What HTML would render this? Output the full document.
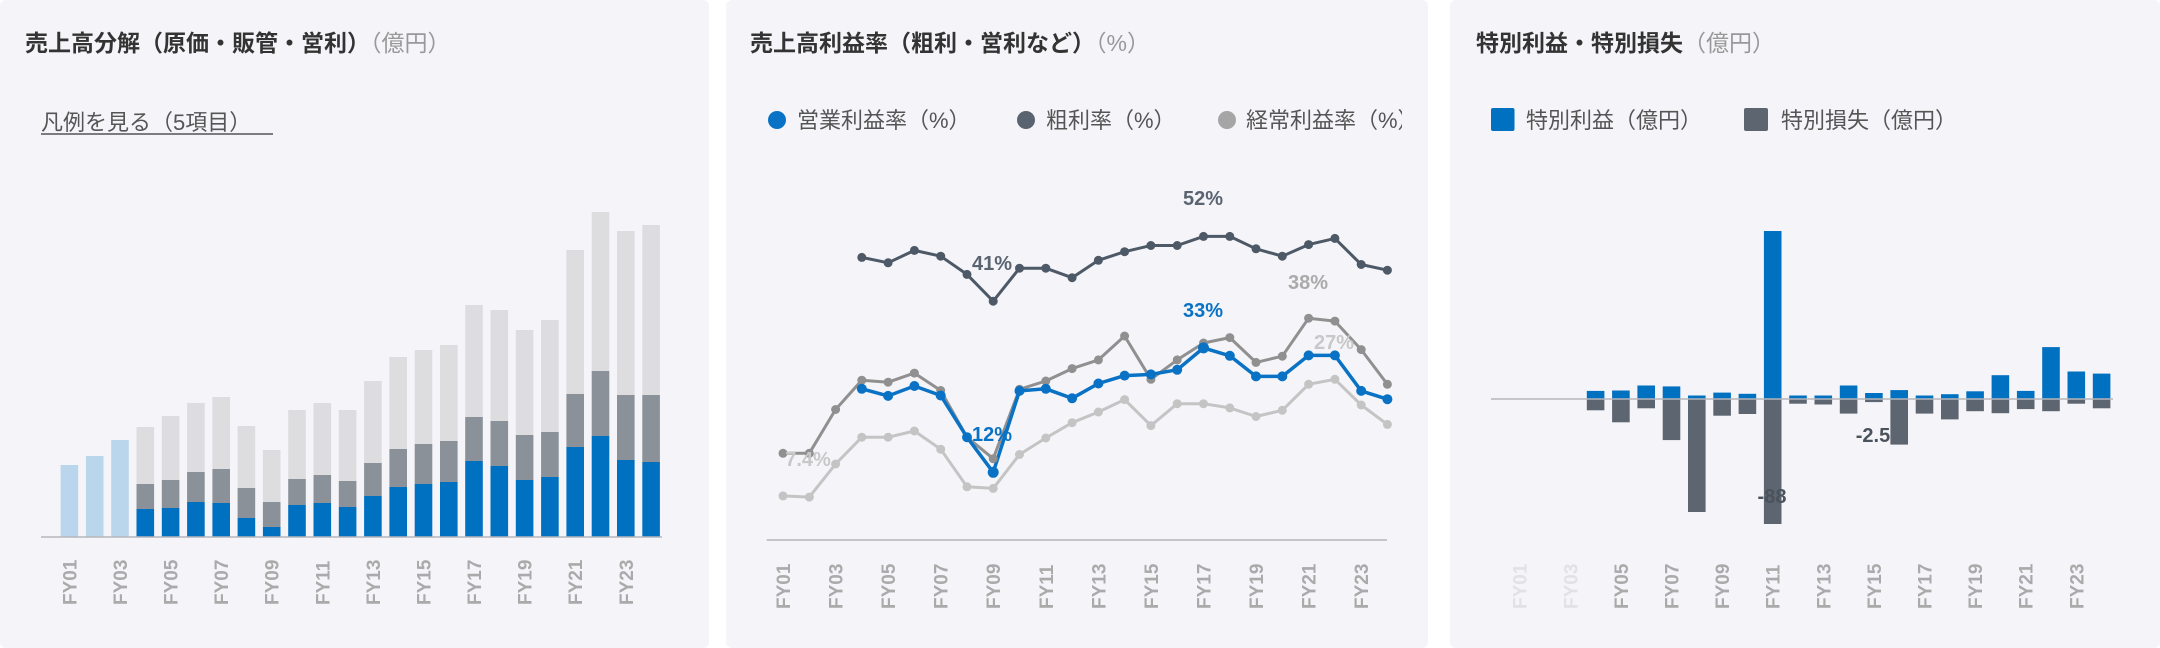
<!DOCTYPE html>
<html><head><meta charset="utf-8"><style>
html,body{margin:0;padding:0;background:#fff;width:2160px;height:648px;overflow:hidden}
svg{display:block}
text{font-family:"Liberation Sans","Noto Sans CJK JP",sans-serif}
.t{font-size:23px;font-weight:bold;fill:#333}
.u{font-size:23px;fill:#999;font-weight:normal}
.lg{font-size:22px;fill:#555}
.tk{font-size:19px;font-weight:bold;fill:#aaa}
</style></head><body>
<svg width="2160" height="648" viewBox="0 0 2160 648" xmlns="http://www.w3.org/2000/svg">
<rect x="0" y="0" width="709" height="648" rx="6" fill="#f5f5f9"/>
<rect x="726" y="0" width="702" height="648" rx="6" fill="#f5f5f9"/>
<rect x="1450" y="0" width="710" height="648" rx="6" fill="#f5f5f9"/>

<!-- Panel 1 -->
<text x="25" y="51" class="t">売上高分解（原価・販管・営利）<tspan class="u">（億円）</tspan></text>
<text x="41" y="130" class="lg">凡例を見る（5項目）</text>
<line x1="41" y1="134" x2="273" y2="134" stroke="#555" stroke-width="1.5"/>
<g fill="#b9d6ec">
<rect x="60.6" y="465" width="17.6" height="72"/>
<rect x="85.9" y="456" width="17.6" height="81"/>
<rect x="111.2" y="440" width="17.6" height="97"/>
</g>
<g>
<rect x="136.5" y="427" width="17.6" height="57" fill="#dddde0"/><rect x="136.5" y="484" width="17.6" height="25" fill="#8b9199"/><rect x="136.5" y="509" width="17.6" height="28" fill="#0070c0"/>
<rect x="161.8" y="416" width="17.6" height="64" fill="#dddde0"/><rect x="161.8" y="480" width="17.6" height="28" fill="#8b9199"/><rect x="161.8" y="508" width="17.6" height="29" fill="#0070c0"/>
<rect x="187.1" y="403" width="17.6" height="69" fill="#dddde0"/><rect x="187.1" y="472" width="17.6" height="30" fill="#8b9199"/><rect x="187.1" y="502" width="17.6" height="35" fill="#0070c0"/>
<rect x="212.4" y="397" width="17.6" height="72" fill="#dddde0"/><rect x="212.4" y="469" width="17.6" height="34" fill="#8b9199"/><rect x="212.4" y="503" width="17.6" height="34" fill="#0070c0"/>
<rect x="237.6" y="426" width="17.6" height="62" fill="#dddde0"/><rect x="237.6" y="488" width="17.6" height="30" fill="#8b9199"/><rect x="237.6" y="518" width="17.6" height="19" fill="#0070c0"/>
<rect x="262.9" y="450" width="17.6" height="52" fill="#dddde0"/><rect x="262.9" y="502" width="17.6" height="25" fill="#8b9199"/><rect x="262.9" y="527" width="17.6" height="10" fill="#0070c0"/>
<rect x="288.2" y="410" width="17.6" height="69" fill="#dddde0"/><rect x="288.2" y="479" width="17.6" height="26" fill="#8b9199"/><rect x="288.2" y="505" width="17.6" height="32" fill="#0070c0"/>
<rect x="313.5" y="403" width="17.6" height="72" fill="#dddde0"/><rect x="313.5" y="475" width="17.6" height="28" fill="#8b9199"/><rect x="313.5" y="503" width="17.6" height="34" fill="#0070c0"/>
<rect x="338.8" y="410" width="17.6" height="71" fill="#dddde0"/><rect x="338.8" y="481" width="17.6" height="26" fill="#8b9199"/><rect x="338.8" y="507" width="17.6" height="30" fill="#0070c0"/>
<rect x="364.1" y="381" width="17.6" height="82" fill="#dddde0"/><rect x="364.1" y="463" width="17.6" height="33" fill="#8b9199"/><rect x="364.1" y="496" width="17.6" height="41" fill="#0070c0"/>
<rect x="389.4" y="357" width="17.6" height="92" fill="#dddde0"/><rect x="389.4" y="449" width="17.6" height="38" fill="#8b9199"/><rect x="389.4" y="487" width="17.6" height="50" fill="#0070c0"/>
<rect x="414.7" y="350" width="17.6" height="94" fill="#dddde0"/><rect x="414.7" y="444" width="17.6" height="40" fill="#8b9199"/><rect x="414.7" y="484" width="17.6" height="53" fill="#0070c0"/>
<rect x="440.0" y="345" width="17.6" height="96" fill="#dddde0"/><rect x="440.0" y="441" width="17.6" height="41" fill="#8b9199"/><rect x="440.0" y="482" width="17.6" height="55" fill="#0070c0"/>
<rect x="465.2" y="305" width="17.6" height="112" fill="#dddde0"/><rect x="465.2" y="417" width="17.6" height="44" fill="#8b9199"/><rect x="465.2" y="461" width="17.6" height="76" fill="#0070c0"/>
<rect x="490.5" y="310" width="17.6" height="111" fill="#dddde0"/><rect x="490.5" y="421" width="17.6" height="45" fill="#8b9199"/><rect x="490.5" y="466" width="17.6" height="71" fill="#0070c0"/>
<rect x="515.8" y="330" width="17.6" height="105" fill="#dddde0"/><rect x="515.8" y="435" width="17.6" height="45" fill="#8b9199"/><rect x="515.8" y="480" width="17.6" height="57" fill="#0070c0"/>
<rect x="541.1" y="320" width="17.6" height="112" fill="#dddde0"/><rect x="541.1" y="432" width="17.6" height="45" fill="#8b9199"/><rect x="541.1" y="477" width="17.6" height="60" fill="#0070c0"/>
<rect x="566.4" y="250" width="17.6" height="144" fill="#dddde0"/><rect x="566.4" y="394" width="17.6" height="53" fill="#8b9199"/><rect x="566.4" y="447" width="17.6" height="90" fill="#0070c0"/>
<rect x="591.7" y="212" width="17.6" height="159" fill="#dddde0"/><rect x="591.7" y="371" width="17.6" height="65" fill="#8b9199"/><rect x="591.7" y="436" width="17.6" height="101" fill="#0070c0"/>
<rect x="617.0" y="231" width="17.6" height="164" fill="#dddde0"/><rect x="617.0" y="395" width="17.6" height="65" fill="#8b9199"/><rect x="617.0" y="460" width="17.6" height="77" fill="#0070c0"/>
<rect x="642.3" y="225" width="17.6" height="170" fill="#dddde0"/><rect x="642.3" y="395" width="17.6" height="67" fill="#8b9199"/><rect x="642.3" y="462" width="17.6" height="75" fill="#0070c0"/>
</g>
<line x1="41" y1="537" x2="662" y2="537" stroke="#b5b5bb" stroke-width="1.5"/>
<g class="tk">
<text transform="translate(69.4,605) rotate(-90)" dy="7">FY01</text>
<text transform="translate(120.0,605) rotate(-90)" dy="7">FY03</text>
<text transform="translate(170.6,605) rotate(-90)" dy="7">FY05</text>
<text transform="translate(221.2,605) rotate(-90)" dy="7">FY07</text>
<text transform="translate(271.7,605) rotate(-90)" dy="7">FY09</text>
<text transform="translate(322.3,605) rotate(-90)" dy="7">FY11</text>
<text transform="translate(372.9,605) rotate(-90)" dy="7">FY13</text>
<text transform="translate(423.5,605) rotate(-90)" dy="7">FY15</text>
<text transform="translate(474.0,605) rotate(-90)" dy="7">FY17</text>
<text transform="translate(524.6,605) rotate(-90)" dy="7">FY19</text>
<text transform="translate(575.2,605) rotate(-90)" dy="7">FY21</text>
<text transform="translate(625.8,605) rotate(-90)" dy="7">FY23</text>
</g>

<!-- Panel 2 -->
<text x="750" y="51" class="t">売上高利益率（粗利・営利など）<tspan class="u">（%）</tspan></text>
<svg x="726" y="90" width="676" height="60" overflow="hidden">
<circle cx="51" cy="30" r="9" fill="#0a72c4"/><text x="71" y="38" class="lg">営業利益率（%）</text>
<circle cx="300" cy="30" r="9" fill="#5a6470"/><text x="320" y="38" class="lg">粗利率（%）</text>
<circle cx="501" cy="30" r="9" fill="#a5a5a5"/><text x="520" y="38" class="lg">経常利益率（%）</text>
</svg>
<line x1="766.6" y1="540" x2="1387" y2="540" stroke="#b5b5bb" stroke-width="1.5"/>
<g fill="none" stroke-linejoin="round">
<polyline stroke="#c4c4c4" stroke-width="3" points="783.0,495.9 809.3,497.1 835.6,464.0 861.8,437.2 888.1,437.2 914.4,431.0 940.7,449.2 967.0,486.8 993.2,488.4 1019.5,454.5 1045.8,438.0 1072.1,422.7 1098.4,412.0 1124.6,399.6 1150.9,425.6 1177.2,403.7 1203.5,403.7 1229.8,407.9 1256.0,416.5 1282.3,410.3 1308.6,384.3 1334.9,379.3 1361.2,405.0 1387.4,424.4"/>
<polyline stroke="#909090" stroke-width="3" points="783.0,453.3 809.3,453.3 835.6,409.5 861.8,380.2 888.1,382.2 914.4,373.1 940.7,390.5 967.0,437.2 993.2,458.7 1019.5,389.3 1045.8,381.0 1072.1,368.6 1098.4,359.9 1124.6,336.0 1150.9,379.3 1177.2,359.9 1203.5,343.0 1229.8,337.6 1256.0,362.4 1282.3,356.2 1308.6,318.2 1334.9,321.1 1361.2,349.6 1387.4,384.3"/>
<polyline stroke="#4d5966" stroke-width="3" points="861.8,257.4 888.1,262.8 914.4,250.4 940.7,256.2 967.0,274.4 993.2,301.2 1019.5,268.2 1045.8,268.2 1072.1,277.7 1098.4,260.3 1124.6,251.7 1150.9,245.5 1177.2,245.5 1203.5,236.4 1229.8,236.4 1256.0,248.8 1282.3,256.2 1308.6,244.6 1334.9,238.4 1361.2,264.5 1387.4,270.2"/>
<polyline stroke="#0a72c4" stroke-width="3.5" points="861.8,388.8 888.1,395.9 914.4,386.0 940.7,395.5 967.0,437.2 993.2,472.3 1019.5,390.9 1045.8,388.8 1072.1,398.3 1098.4,383.5 1124.6,375.6 1150.9,374.4 1177.2,369.8 1203.5,347.9 1229.8,355.8 1256.0,376.4 1282.3,376.4 1308.6,355.4 1334.9,355.4 1361.2,390.9 1387.4,399.2"/>
</g>
<g fill="#c4c4c4">
<circle cx="783.0" cy="495.9" r="4.5"/><circle cx="809.3" cy="497.1" r="4.5"/><circle cx="835.6" cy="464.0" r="4.5"/><circle cx="861.8" cy="437.2" r="4.5"/><circle cx="888.1" cy="437.2" r="4.5"/><circle cx="914.4" cy="431.0" r="4.5"/><circle cx="940.7" cy="449.2" r="4.5"/><circle cx="967.0" cy="486.8" r="4.5"/><circle cx="993.2" cy="488.4" r="4.5"/><circle cx="1019.5" cy="454.5" r="4.5"/><circle cx="1045.8" cy="438.0" r="4.5"/><circle cx="1072.1" cy="422.7" r="4.5"/><circle cx="1098.4" cy="412.0" r="4.5"/><circle cx="1124.6" cy="399.6" r="4.5"/><circle cx="1150.9" cy="425.6" r="4.5"/><circle cx="1177.2" cy="403.7" r="4.5"/><circle cx="1203.5" cy="403.7" r="4.5"/><circle cx="1229.8" cy="407.9" r="4.5"/><circle cx="1256.0" cy="416.5" r="4.5"/><circle cx="1282.3" cy="410.3" r="4.5"/><circle cx="1308.6" cy="384.3" r="4.5"/><circle cx="1334.9" cy="379.3" r="4.5"/><circle cx="1361.2" cy="405.0" r="4.5"/><circle cx="1387.4" cy="424.4" r="4.5"/>
</g>
<g fill="#909090">
<circle cx="783.0" cy="453.3" r="4.5"/><circle cx="809.3" cy="453.3" r="4.5"/><circle cx="835.6" cy="409.5" r="4.5"/><circle cx="861.8" cy="380.2" r="4.5"/><circle cx="888.1" cy="382.2" r="4.5"/><circle cx="914.4" cy="373.1" r="4.5"/><circle cx="940.7" cy="390.5" r="4.5"/><circle cx="967.0" cy="437.2" r="4.5"/><circle cx="993.2" cy="458.7" r="4.5"/><circle cx="1019.5" cy="389.3" r="4.5"/><circle cx="1045.8" cy="381.0" r="4.5"/><circle cx="1072.1" cy="368.6" r="4.5"/><circle cx="1098.4" cy="359.9" r="4.5"/><circle cx="1124.6" cy="336.0" r="4.5"/><circle cx="1150.9" cy="379.3" r="4.5"/><circle cx="1177.2" cy="359.9" r="4.5"/><circle cx="1203.5" cy="343.0" r="4.5"/><circle cx="1229.8" cy="337.6" r="4.5"/><circle cx="1256.0" cy="362.4" r="4.5"/><circle cx="1282.3" cy="356.2" r="4.5"/><circle cx="1308.6" cy="318.2" r="4.5"/><circle cx="1334.9" cy="321.1" r="4.5"/><circle cx="1361.2" cy="349.6" r="4.5"/><circle cx="1387.4" cy="384.3" r="4.5"/>
</g>
<g fill="#4d5966">
<circle cx="861.8" cy="257.4" r="4.5"/><circle cx="888.1" cy="262.8" r="4.5"/><circle cx="914.4" cy="250.4" r="4.5"/><circle cx="940.7" cy="256.2" r="4.5"/><circle cx="967.0" cy="274.4" r="4.5"/><circle cx="993.2" cy="301.2" r="4.5"/><circle cx="1019.5" cy="268.2" r="4.5"/><circle cx="1045.8" cy="268.2" r="4.5"/><circle cx="1072.1" cy="277.7" r="4.5"/><circle cx="1098.4" cy="260.3" r="4.5"/><circle cx="1124.6" cy="251.7" r="4.5"/><circle cx="1150.9" cy="245.5" r="4.5"/><circle cx="1177.2" cy="245.5" r="4.5"/><circle cx="1203.5" cy="236.4" r="4.5"/><circle cx="1229.8" cy="236.4" r="4.5"/><circle cx="1256.0" cy="248.8" r="4.5"/><circle cx="1282.3" cy="256.2" r="4.5"/><circle cx="1308.6" cy="244.6" r="4.5"/><circle cx="1334.9" cy="238.4" r="4.5"/><circle cx="1361.2" cy="264.5" r="4.5"/><circle cx="1387.4" cy="270.2" r="4.5"/>
</g>
<g fill="#0a72c4">
<circle cx="861.8" cy="388.8" r="5"/><circle cx="888.1" cy="395.9" r="5"/><circle cx="914.4" cy="386.0" r="5"/><circle cx="940.7" cy="395.5" r="5"/><circle cx="967.0" cy="437.2" r="5"/><circle cx="993.2" cy="472.3" r="5.5"/><circle cx="1019.5" cy="390.9" r="5"/><circle cx="1045.8" cy="388.8" r="5"/><circle cx="1072.1" cy="398.3" r="5"/><circle cx="1098.4" cy="383.5" r="5"/><circle cx="1124.6" cy="375.6" r="5"/><circle cx="1150.9" cy="374.4" r="5"/><circle cx="1177.2" cy="369.8" r="5"/><circle cx="1203.5" cy="347.9" r="5.5"/><circle cx="1229.8" cy="355.8" r="5"/><circle cx="1256.0" cy="376.4" r="5"/><circle cx="1282.3" cy="376.4" r="5"/><circle cx="1308.6" cy="355.4" r="5"/><circle cx="1334.9" cy="355.4" r="5"/><circle cx="1361.2" cy="390.9" r="5"/><circle cx="1387.4" cy="399.2" r="5"/>
</g>
<g font-size="20" font-weight="bold" text-anchor="middle">
<text x="1203" y="205" fill="#5a6470">52%</text>
<text x="992" y="270" fill="#5a6470">41%</text>
<text x="1308" y="289" fill="#aaaaaa">38%</text>
<text x="1203" y="317" fill="#0a72c4">33%</text>
<text x="1334" y="349" fill="#c8c8c8">27%</text>
<text x="992" y="441" fill="#0a72c4">12%</text>
<text x="808" y="466" fill="#c8c8c8">7.4%</text>
</g>
<g class="tk">
<text transform="translate(783.0,609) rotate(-90)" dy="7">FY01</text>
<text transform="translate(835.6,609) rotate(-90)" dy="7">FY03</text>
<text transform="translate(888.1,609) rotate(-90)" dy="7">FY05</text>
<text transform="translate(940.7,609) rotate(-90)" dy="7">FY07</text>
<text transform="translate(993.2,609) rotate(-90)" dy="7">FY09</text>
<text transform="translate(1045.8,609) rotate(-90)" dy="7">FY11</text>
<text transform="translate(1098.4,609) rotate(-90)" dy="7">FY13</text>
<text transform="translate(1150.9,609) rotate(-90)" dy="7">FY15</text>
<text transform="translate(1203.5,609) rotate(-90)" dy="7">FY17</text>
<text transform="translate(1256.0,609) rotate(-90)" dy="7">FY19</text>
<text transform="translate(1308.6,609) rotate(-90)" dy="7">FY21</text>
<text transform="translate(1361.2,609) rotate(-90)" dy="7">FY23</text>
</g>

<!-- Panel 3 -->
<text x="1476" y="51" class="t">特別利益・特別損失<tspan class="u">（億円）</tspan></text>
<rect x="1491" y="108" width="23.5" height="23" rx="2" fill="#0070c0"/><text x="1526" y="128" class="lg">特別利益（億円）</text>
<rect x="1744" y="108" width="24" height="23" rx="2" fill="#5d6570"/><text x="1781" y="128" class="lg">特別損失（億円）</text>
<g fill="#0070c0">
<rect x="1586.8" y="390.9" width="17.6" height="8.1"/><rect x="1612.1" y="390.5" width="17.6" height="8.5"/><rect x="1637.4" y="385.5" width="17.6" height="13.5"/><rect x="1662.7" y="386.4" width="17.6" height="12.6"/><rect x="1688.0" y="395.5" width="17.6" height="3.5"/><rect x="1713.3" y="392.6" width="17.6" height="6.4"/><rect x="1738.6" y="393.8" width="17.6" height="5.2"/><rect x="1763.9" y="231.0" width="17.6" height="168"/><rect x="1789.2" y="395.5" width="17.6" height="3.5"/><rect x="1814.5" y="395.5" width="17.6" height="3.5"/><rect x="1839.8" y="385.5" width="17.6" height="13.5"/><rect x="1865.1" y="393.0" width="17.6" height="6"/><rect x="1890.4" y="390.1" width="17.6" height="8.9"/><rect x="1915.7" y="395.5" width="17.6" height="3.5"/><rect x="1941.0" y="394.2" width="17.6" height="4.8"/><rect x="1966.3" y="391.3" width="17.6" height="7.7"/><rect x="1991.6" y="375.2" width="17.6" height="23.8"/><rect x="2016.9" y="390.9" width="17.6" height="8.1"/><rect x="2042.2" y="347.1" width="17.6" height="51.9"/><rect x="2067.5" y="371.5" width="17.6" height="27.5"/><rect x="2092.8" y="373.6" width="17.6" height="25.4"/>
</g>
<g fill="#5d6570">
<rect x="1586.8" y="399" width="17.6" height="11.3"/><rect x="1612.1" y="399" width="17.6" height="23.3"/><rect x="1637.4" y="399" width="17.6" height="9.3"/><rect x="1662.7" y="399" width="17.6" height="41.1"/><rect x="1688.0" y="399" width="17.6" height="113"/><rect x="1713.3" y="399" width="17.6" height="16.7"/><rect x="1738.6" y="399" width="17.6" height="15"/><rect x="1763.9" y="399" width="17.6" height="125"/><rect x="1789.2" y="399" width="17.6" height="4.7"/><rect x="1814.5" y="399" width="17.6" height="5.5"/><rect x="1839.8" y="399" width="17.6" height="14.6"/><rect x="1865.1" y="399" width="17.6" height="3.1"/><rect x="1890.4" y="399" width="17.6" height="45.6"/><rect x="1915.7" y="399" width="17.6" height="14.6"/><rect x="1941.0" y="399" width="17.6" height="20.4"/><rect x="1966.3" y="399" width="17.6" height="12.2"/><rect x="1991.6" y="399" width="17.6" height="14.2"/><rect x="2016.9" y="399" width="17.6" height="10.1"/><rect x="2042.2" y="399" width="17.6" height="12.2"/><rect x="2067.5" y="399" width="17.6" height="4.7"/><rect x="2092.8" y="399" width="17.6" height="9.3"/>
</g>
<line x1="1491" y1="399" x2="2113" y2="399" stroke="#b5b5bb" stroke-width="1.5"/>
<g font-size="20" font-weight="bold" text-anchor="middle" fill="#4a525c">
<text x="1772" y="503">-88</text>
<text x="1873" y="442">-2.5</text>
</g>
<g class="tk">
<text transform="translate(1519.7,609) rotate(-90)" dy="7" fill="#e2e2e6">FY01</text>
<text transform="translate(1570.3,609) rotate(-90)" dy="7" fill="#e2e2e6">FY03</text>
<text transform="translate(1620.9,609) rotate(-90)" dy="7">FY05</text>
<text transform="translate(1671.5,609) rotate(-90)" dy="7">FY07</text>
<text transform="translate(1722.1,609) rotate(-90)" dy="7">FY09</text>
<text transform="translate(1772.7,609) rotate(-90)" dy="7">FY11</text>
<text transform="translate(1823.3,609) rotate(-90)" dy="7">FY13</text>
<text transform="translate(1873.9,609) rotate(-90)" dy="7">FY15</text>
<text transform="translate(1924.5,609) rotate(-90)" dy="7">FY17</text>
<text transform="translate(1975.1,609) rotate(-90)" dy="7">FY19</text>
<text transform="translate(2025.7,609) rotate(-90)" dy="7">FY21</text>
<text transform="translate(2076.3,609) rotate(-90)" dy="7">FY23</text>
</g>
</svg>
</body></html>
